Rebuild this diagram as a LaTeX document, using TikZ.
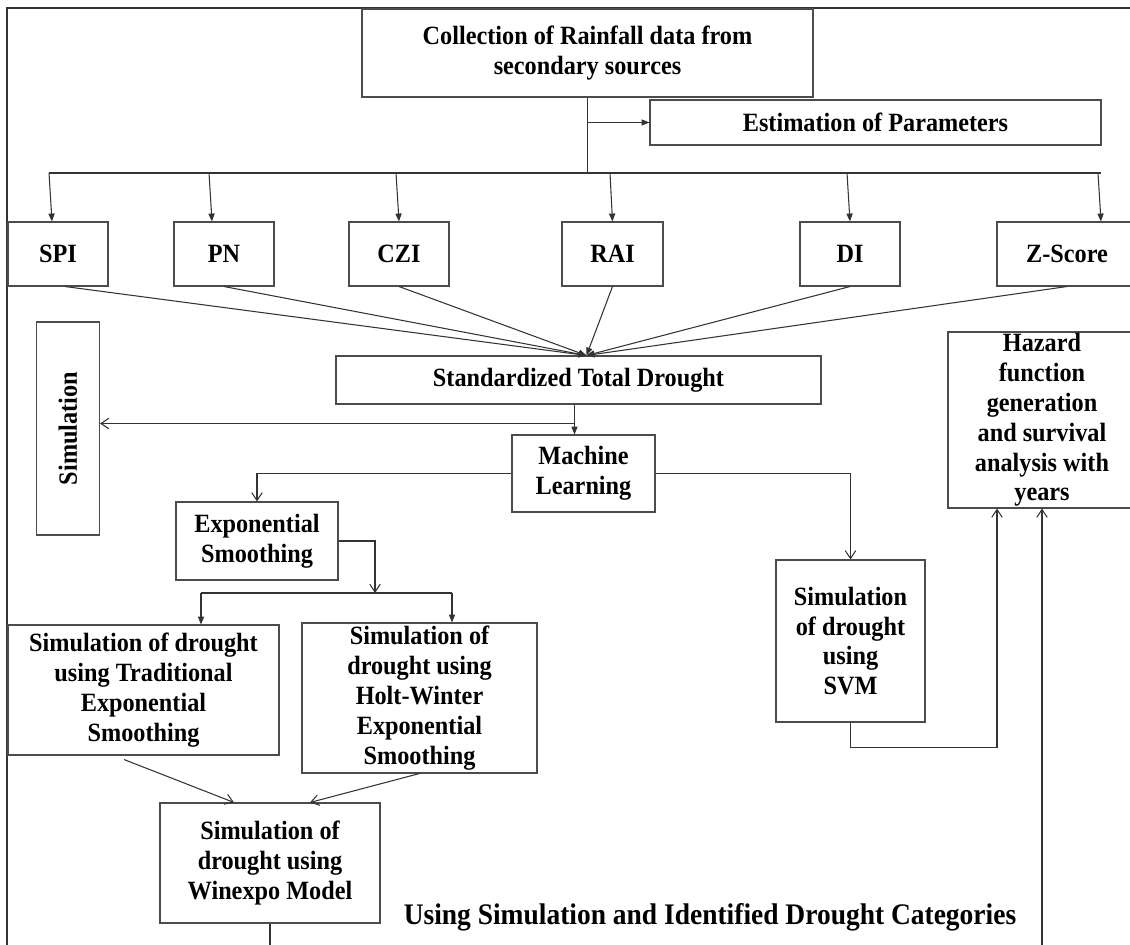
\documentclass[tikz,border=0pt]{standalone}
\usepackage{fontspec}
\setmainfont[FakeStretch=0.92]{Liberation Serif}
\usetikzlibrary{arrows.meta}
\usetikzlibrary{calc}

\tikzset{
  box/.style 2 args={draw=black!70, line width=0.6pt, minimum width=#1*0.02cm,
    minimum height=#2*0.02cm, inner sep=0pt, align=center,
    font=\fontsize{15}{17}\selectfont\bfseries},
  ln/.style={draw=black!80, line width=0.6pt},
  fillarr/.style={-{Triangle[length=4.5pt,width=3.5pt]}},
  openarr/.style={-{Straight Barb[length=4.5pt,width=6pt]}}
}

\begin{document}
\begin{tikzpicture}[x=0.02cm,y=-0.02cm]
    \useasboundingbox (0,0) rectangle (1130,945);
    \clip (0,0) rectangle (1130,945);
    \draw[ln] (7,960) -- (7,8) -- (1150,8);
    % data and parameters
    \node[box={451}{88}] (col) at (587.5,53) {Collection of Rainfall data from\\ secondary sources};
    \node[box={451}{45}] (est) at (875.5,122.5) {Estimation of Parameters};
    \coordinate (c2) at (col.south |- est.west);
    \coordinate (c3) at ($(col.south)+(0,76)$);
    \draw[ln] (col.south) -- (c3);
    \draw[ln,fillarr] (c2) -- (est.west);
    % indices
    \node[box={100}{64}] (spi) at (58,254) {SPI};
    \node[box={100}{64}] (pn) at (224,254) {PN};
    \node[box={100}{64}] (czi) at (399,254) {CZI};
    \node[box={101}{64}] (rai) at (612.5,254) {RAI};
    \node[box={100}{64}] (di) at (850,254) {DI};
    \node[box={140}{64}] (zs) at (1067,254) {Z-Score};
    \coordinate (t1) at (49,173);
    \coordinate (t2) at (209,173);
    \coordinate (t3) at (396,173);
    \coordinate (t4) at (610,173);
    \coordinate (t5) at (847,173);
    \coordinate (t6) at (1098,173);
    \coordinate (t7) at (1101,173);
    \draw[ln] (t1) -- (t7);
    \draw[ln,fillarr] (t1) -- ($(spi.north)+(-6,0)$);
    \draw[ln,fillarr] (t2) -- ($(pn.north)+(-12,0)$);
    \draw[ln,fillarr] (t3) -- (czi.north);
    \draw[ln,fillarr] (t4) -- (rai.north);
    \draw[ln,fillarr] (t5) -- (di.north);
    \draw[ln,fillarr] (t6) -- ($(zs.north)+(34,0)$);
    % total drought
    \node[box={485}{48}] (std) at (578.5,380) {Standardized Total Drought};
    \coordinate (hub) at ($(std.north)+(8,0)$);
    \draw[ln,fillarr] ($(spi.south)+(7,0)$) -- (hub);
    \draw[ln,fillarr] (pn.south) -- (hub);
    \draw[ln,fillarr] (czi.south) -- (hub);
    \draw[ln,fillarr] (rai.south) -- (hub);
    \draw[ln,fillarr] (di.south) -- (hub);
    \draw[ln,fillarr] (zs.south) -- (hub);
    \node[box={213}{63},rotate=90] (sim) at (68,428.5) {Simulation};
    \node[box={143}{77}] (ml) at (583.5,473.5) {Machine\\ Learning};
    \coordinate (s1) at ($(std.south)+(-4,0)$);
    \coordinate (s2) at ($(s1)+(0,19)$);
    \draw[ln] (s1) -- (s2);
    \draw[ln,fillarr] (s2) -- (s2 |- ml.north);
    \draw[ln,openarr] (s2) -- (s2 -| sim.south);
    % machine learning
    \node[box={162}{78}] (es) at (257,541) {Exponential\\ Smoothing};
    \node[box={149}{162}] (svm) at (850.5,641) {Simulation\\ of drought\\ using\\ SVM};
    \draw[ln,openarr] (ml.west) -| (es.north);
    \draw[ln,openarr] (ml.east) -| (svm.north);
    \coordinate (e1) at (375,593);
    \coordinate (e2) at (201,593);
    \coordinate (e3) at (452,593);
    \draw[ln,openarr] (es.east) -| (e1);
    \draw[ln] (e2) -- (e3);
    \node[box={271}{130}] (trad) at (143.5,690) {Simulation of drought\\ using Traditional\\ Exponential\\ Smoothing};
    \node[box={235}{150}] (holt) at (419.5,698) {Simulation of\\ drought using\\ Holt-Winter\\ Exponential\\ Smoothing};
    \draw[ln,fillarr] (e2) -- (e2 |- trad.north);
    \draw[ln,fillarr] (e3) -- (e3 |- holt.north);
    \node[box={220}{120}] (wine) at (270,863) {Simulation of\\ drought using\\ Winexpo Model};
    \draw[ln,openarr] ($(trad.south)+(-19.5,4)$) -- ($(wine.north)+(-36,0)$);
    \draw[ln,openarr] (holt.south) -- ($(wine.north)+(40,0)$);
    \draw[ln] (wine.south) -- ($(wine.south)+(0,40)$);
    % hazard
    \node[box={188}{176}] (hz) at (1042,420) {Hazard\\ function\\ generation\\ and survival\\ analysis with\\ years};
    \coordinate (h1) at ($(svm.south)+(0,25)$);
    \coordinate (h2) at ($(hz.south)+(0,450)$);
    \draw[ln,openarr] (svm.south) -- (h1) -| ($(hz.south)+(-45,0)$);
    \draw[ln,openarr] (h2) -- (hz.south);
    \node[font=\fontsize{17}{20}\selectfont\bfseries, inner sep=0pt] (cap) at (710,917) {Using Simulation and Identified Drought Categories};
\end{tikzpicture}
\end{document}
